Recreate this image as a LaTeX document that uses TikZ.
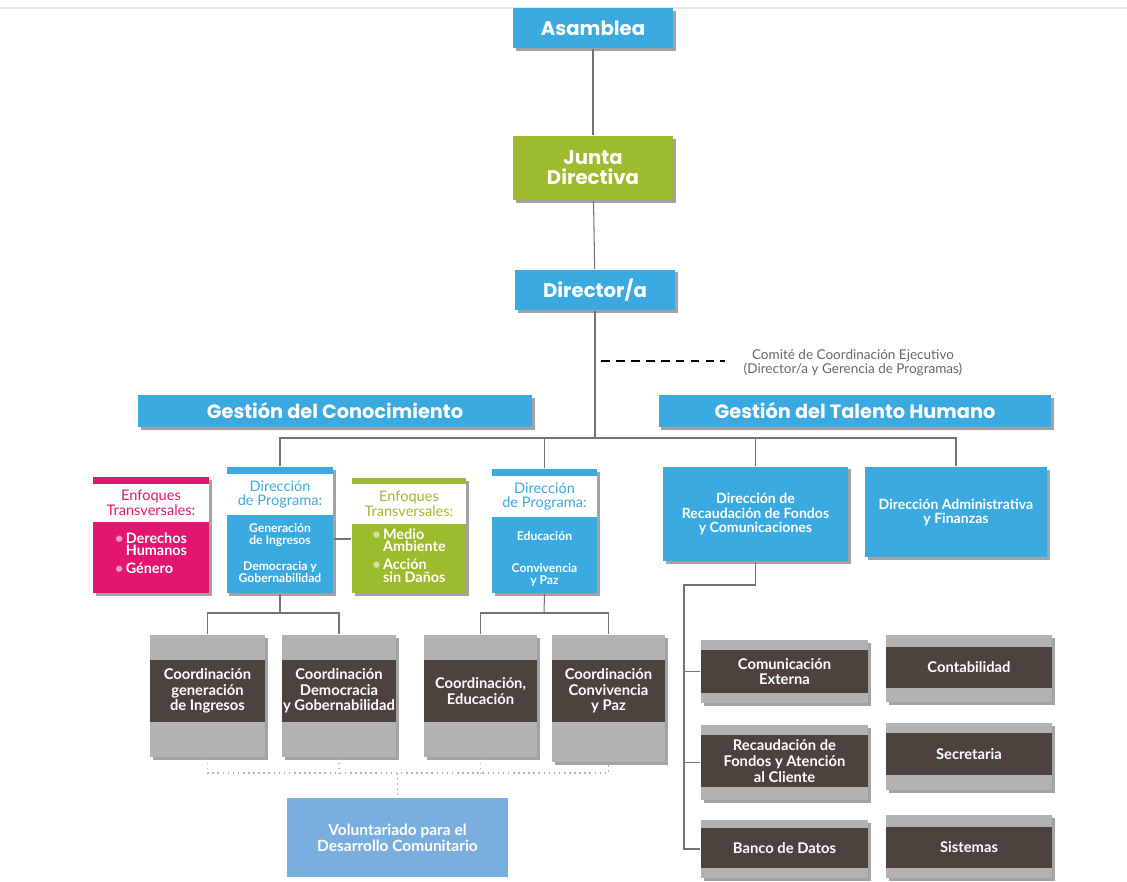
\documentclass[tikz,border=0pt]{standalone}
\usepackage{fontspec}
\setmainfont{Lato}
\newfontfamily\titulo{Poppins}
\usepackage{tikz}
\usetikzlibrary{shadows}
\definecolor{azul}{RGB}{58,170,224}
\definecolor{verde}{RGB}{156,187,45}
\definecolor{rosa}{RGB}{226,21,111}
\definecolor{cafe}{RGB}{77,66,61}
\definecolor{gris}{RGB}{178,178,178}
\definecolor{celeste}{RGB}{122,174,222}
\definecolor{linea}{RGB}{115,115,115}

\begin{document}
\begin{tikzpicture}[   % opciones por defecto
      x=0.02cm, y=-0.02cm,  % 1 unidad = 1 pixel de la imagen
      line width=0.6pt
    ]
    \tikzstyle{sombra}=[drop shadow={shadow xshift=1.6pt,shadow yshift=-1.6pt,opacity=.45,fill=black!80}];
    \tikzstyle{caja}=[inner sep=0pt, align=center, text=white, sombra];
    \tikzstyle{titulocaja}=[caja, fill=azul, font={\titulo\bfseries\fontsize{11.2}{12}\selectfont}];
    \tikzstyle{cabeza}=[fill=white, inner sep=0pt, align=center, font={\fontsize{8.3}{8.3}\selectfont}];
    \tikzstyle{cuerpo}=[inner sep=0pt, align=center, text=white, font={\bfseries\fontsize{8.2}{8}\selectfont}];
    \tikzstyle{coord}=[fill=gris, inner sep=0pt, sombra];
    \tikzstyle{banda}=[fill=cafe, inner sep=0pt, align=center, text=white, font={\bfseries\fontsize{8.4}{8.9}\selectfont}];
    \tikzstyle{conector}=[draw=linea];
    \tikzstyle{punteado}=[draw=gris, dotted, line width=0.9pt];
    %
    \useasboundingbox (0,0) rectangle (1127,882);
    % linea superior de la pagina
    \coordinate (borde1) at (0,8);
    \coordinate (borde2) at (1127,8);
    \draw[black!8, line width=1pt] (borde1) -- (borde2);
    %
    % nodos superiores
    \node [titulocaja, minimum width=3.2cm, minimum height=0.8cm] (asam) at (593,28) {Asamblea};
    \node [titulocaja, fill=verde, minimum width=3.2cm, minimum height=1.28cm,
           font={\titulo\bfseries\fontsize{11.2}{11.5}\selectfont}] (junta) at (593,168) {Junta\\Directiva};
    \node [titulocaja, minimum width=3.2cm, minimum height=0.82cm] (dir) at (595,290) {Director/a};
    %
    % comite
    \node [align=center, text=black!60, font={\fontsize{7.7}{7.7}\selectfont}] (comite) at (853,363)
      {Comité de Coordinación Ejecutivo\\(Director/a y Gerencia de Programas)};
    \coordinate (c1) at (601,361);
    \coordinate (c2) at (725,361);
    \draw[line width=0.9pt, dash pattern=on 5pt off 3.5pt] (c1) -- (c2);
    %
    % gestiones
    \node [titulocaja, minimum width=7.88cm, minimum height=0.64cm,
           font={\titulo\bfseries\fontsize{11}{12}\selectfont}] (gc) at (335,411) {Gestión del Conocimiento};
    \node [titulocaja, minimum width=7.86cm, minimum height=0.64cm,
           font={\titulo\bfseries\fontsize{11}{12}\selectfont}] (gth) at (855,411) {Gestión del Talento Humano};
    %
    % enfoques transversales (rosa)
    \node [caja, fill=rosa, minimum width=2.32cm, minimum height=2.32cm] (ent1) at (151,535) {};
    \node [cabeza, text=rosa, minimum width=2.32cm, minimum height=0.76cm] (ent1c) at (151,503) {Enfoques\\Transversales:};
    \node [cuerpo] (ent1t) at (151,555) {%
      \begin{tabular}{@{}l@{\,}l@{}}
        \textcolor{rosa!45!white}{\textbullet} & Derechos\\[-1.5pt]
        & Humanos\\[2pt]
        \textcolor{rosa!45!white}{\textbullet} & Género
      \end{tabular}};
    %
    % direccion de programa 1
    \node [caja, fill=azul, minimum width=2.14cm, minimum height=2.52cm] (dp1) at (280,530) {};
    \node [cabeza, text=azul, minimum width=2.14cm, minimum height=0.82cm] (dp1c) at (280,494.5) {Dirección\\de Programa:};
    \node [cuerpo, font={\bfseries\fontsize{6.9}{6.9}\selectfont}] (dp1t) at (280,553)
      {Generación\\de Ingresos\\[8pt]Democracia y\\Gobernabilidad};
    %
    % enfoques transversales (verde)
    \node [caja, fill=verde, minimum width=2.28cm, minimum height=2.3cm] (ent2) at (409,535.5) {};
    \node [cabeza, text=verde, minimum width=2.28cm, minimum height=0.8cm] (ent2c) at (409,504) {Enfoques\\Transversales:};
    \node [cuerpo] (ent2t) at (409,557.5) {%
      \begin{tabular}{@{}l@{\,}l@{}}
        \textcolor{verde!45!white}{\textbullet} & Medio\\[-1.5pt]
        & Ambiente\\[2pt]
        \textcolor{verde!45!white}{\textbullet} & Acción\\[-1.5pt]
        & sin Daños
      \end{tabular}};
    %
    % direccion de programa 2
    \node [caja, fill=azul, minimum width=2.1cm, minimum height=2.48cm] (dp2) at (544.5,531) {};
    \node [cabeza, text=azul, minimum width=2.1cm, minimum height=0.82cm] (dp2c) at (544.5,496.5) {Dirección\\de Programa:};
    \node [cuerpo, font={\bfseries\fontsize{6.9}{6.9}\selectfont}] (dp2t) at (544.5,559)
      {Educación\\[11pt]Convivencia\\y Paz};
    %
    % direcciones del talento humano
    \node [caja, fill=azul, minimum width=3.7cm, minimum height=1.9cm,
           font={\bfseries\fontsize{8}{8}\selectfont}] (drfc) at (755.5,514) {Dirección de\\Recaudación de Fondos\\y Comunicaciones};
    \node [caja, fill=azul, minimum width=3.64cm, minimum height=1.8cm,
           font={\bfseries\fontsize{8}{8}\selectfont}] (daf) at (956,512) {Dirección Administrativa\\y Finanzas};
    %
    % coordinaciones
    \node [coord, minimum width=2.3cm, minimum height=2.44cm] (cgi) at (207.5,696) {};
    \node [banda, minimum width=2.3cm, minimum height=1.24cm] (cgib) at (207.5,691) {Coordinación\\generación\\de Ingresos};
    \node [coord, minimum width=2.28cm, minimum height=2.44cm] (cdg) at (339,696) {};
    \node [banda, minimum width=2.28cm, minimum height=1.24cm] (cdgb) at (339,691) {Coordinación\\Democracia\\y Gobernabilidad};
    \node [coord, minimum width=2.26cm, minimum height=2.44cm] (ce) at (480.5,696) {};
    \node [banda, minimum width=2.26cm, minimum height=1.24cm] (ceb) at (480.5,691) {Coordinación,\\Educación};
    \node [coord, minimum width=2.26cm, minimum height=2.54cm] (ccp) at (608.5,698.5) {};
    \node [banda, minimum width=2.26cm, minimum height=1.24cm] (ccpb) at (608.5,691) {Coordinación\\Convivencia\\y Paz};
    %
    % voluntariado
    \node [inner sep=0pt, fill=celeste, text=white, align=center, minimum width=4.42cm, minimum height=1.58cm,
           font={\bfseries\fontsize{8.8}{9}\selectfont}] (vol) at (397.5,837.5)
      {Voluntariado para el\\Desarrollo Comunitario};
    %
    % areas de la direccion de fondos
    \node [coord, minimum width=3.34cm, minimum height=1.26cm] (cex) at (784.5,671.5) {};
    \node [banda, minimum width=3.34cm, minimum height=0.86cm] (cexb) at (784.5,671.5) {Comunicación\\Externa};
    \node [coord, minimum width=3.34cm, minimum height=1.5cm] (rfa) at (784.5,762.5) {};
    \node [banda, minimum width=3.34cm, minimum height=1.04cm] (rfab) at (784.5,761) {Recaudación de\\Fondos y Atención\\al Cliente};
    \node [coord, minimum width=3.34cm, minimum height=1.16cm] (bdd) at (784.5,849) {};
    \node [banda, minimum width=3.34cm, minimum height=0.8cm] (bddb) at (784.5,848) {Banco de Datos};
    %
    % areas administrativas
    \node [coord, minimum width=3.32cm, minimum height=1.34cm] (cont) at (969,668.5) {};
    \node [banda, minimum width=3.32cm, minimum height=0.82cm] (contb) at (969,667.5) {Contabilidad};
    \node [coord, minimum width=3.32cm, minimum height=1.34cm] (secr) at (969,756.5) {};
    \node [banda, minimum width=3.32cm, minimum height=0.84cm] (secrb) at (969,754) {Secretaria};
    \node [coord, minimum width=3.32cm, minimum height=1.26cm] (sist) at (969,846.5) {};
    \node [banda, minimum width=3.32cm, minimum height=0.82cm] (sistb) at (969,847.5) {Sistemas};
    %
    % conexiones verticales superiores
    \coordinate (bus) at (595,438);
    \draw[conector] (asam) -- (junta);
    \draw[conector] (junta) -- (dir);
    \draw[conector] (dir) -- (bus);
    % barra horizontal
    \draw[conector] (dp1.north) |- (bus) -| (daf.north);
    \foreach \n in {dp2,drfc} {
      \draw[conector] (\n.north) -- (\n.north |- bus);
    }
    % direccion 1 - enfoques verdes
    \coordinate (enl) at (0,539);
    \draw[conector] (dp1.east |- enl) -- (ent2.west |- enl);
    %
    % direcciones de programa - coordinaciones
    \coordinate (j1) at (280,613);
    \coordinate (j2) at (544,613);
    \draw[conector] (dp1.south) -- (j1);
    \draw[conector] (cgi.north) |- (j1) -| (cdg.north);
    \draw[conector] (dp2.south) -- (j2);
    \draw[conector] (ce.north) |- (j2) -| (ccp.north);
    %
    % punteado hacia voluntariado
    \coordinate (j3) at (397.5,773);
    \draw[punteado] (cgi.south) |- (j3) -| (ccp.south);
    \foreach \n in {cdg,ce} {
      \draw[punteado] (\n.south) -- (\n.south |- j3);
    }
    \draw[punteado] (j3) -- (vol.north);
    %
    % direccion de fondos - areas
    \coordinate (j4) at (684,585);
    \draw[conector] (drfc.south) |- (j4) |- (bdd.west);
    \foreach \n in {cex,rfa} {
      \draw[conector] (\n.west) -- (\n.west -| j4);
    }
  \end{tikzpicture}
\end{document}
